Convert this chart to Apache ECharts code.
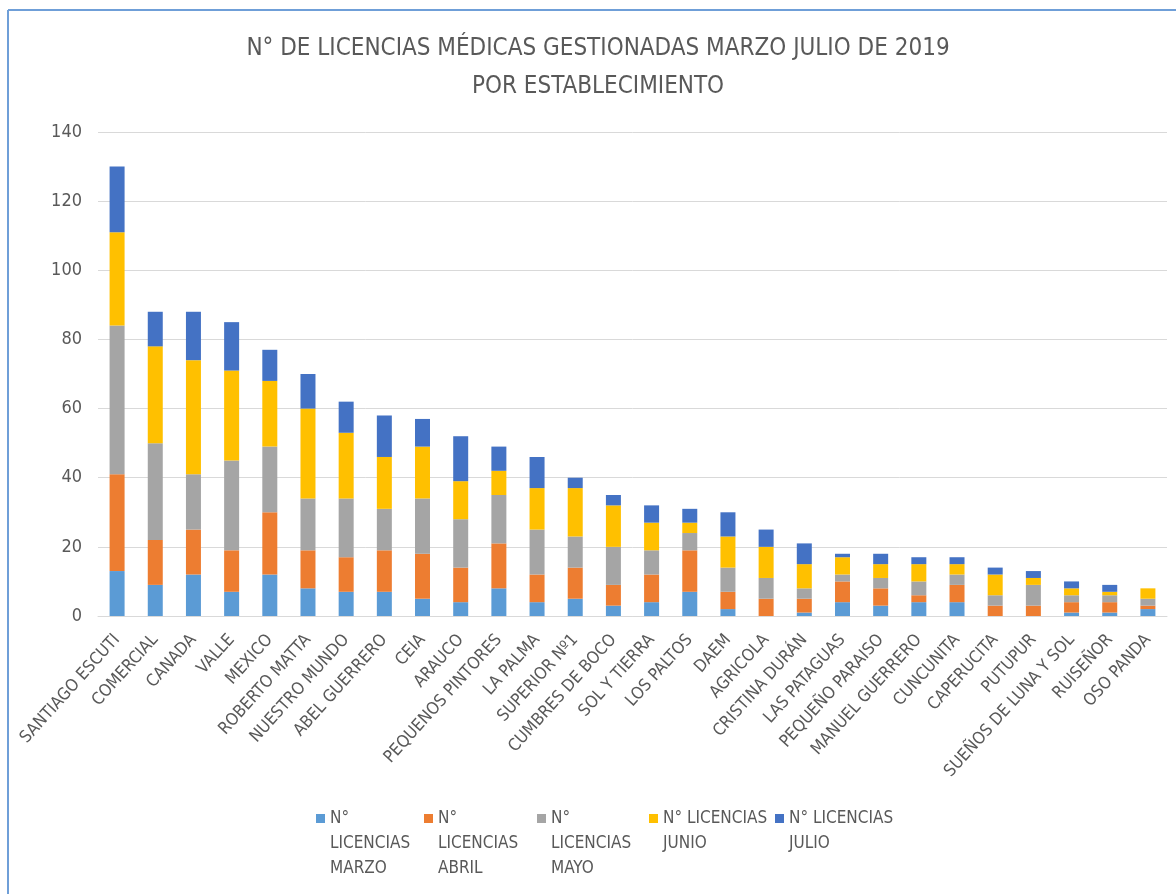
<!DOCTYPE html>
<html>
<head>
<meta charset="utf-8">
<script src="https://cdn.jsdelivr.net/npm/echarts@6/dist/echarts.min.js"></script>
<style>
  html, body { margin: 0; padding: 0; background: #ffffff; }
  #chart { width: 1176px; height: 894px; }
</style>
</head>
<body>
<div id="chart"></div>
<script>
// Establecimientos y licencias médicas por mes (marzo a julio 2019)
const establecimientos = [
  'SANTIAGO ESCUTI', 'COMERCIAL', 'CANADA', 'VALLE', 'MEXICO', 'ROBERTO MATTA',
  'NUESTRO MUNDO', 'ABEL GUERRERO', 'CEIA', 'ARAUCO', 'PEQUENOS PINTORES',
  'LA PALMA', 'SUPERIOR Nº1', 'CUMBRES DE BOCO', 'SOL Y TIERRA', 'LOS PALTOS',
  'DAEM', 'AGRICOLA', 'CRISTINA DURÁN', 'LAS PATAGUAS', 'PEQUEÑO PARAISO',
  'MANUEL GUERRERO', 'CUNCUNITA', 'CAPERUCITA', 'PUTUPUR',
  'SUEÑOS DE LUNA Y SOL', 'RUISEÑOR', 'OSO PANDA'
];
const marzo = [13, 9, 12, 7, 12, 8, 7, 7, 5, 4, 8, 4, 5, 3, 4, 7, 2, 0, 1, 4, 3, 4, 4, 0, 0, 1, 1, 2];
const abril = [28, 13, 13, 12, 18, 11, 10, 12, 13, 10, 13, 8, 9, 6, 8, 12, 5, 5, 4, 6, 5, 2, 5, 3, 3, 3, 3, 1];
const mayo  = [43, 28, 16, 26, 19, 15, 17, 12, 16, 14, 14, 13, 9, 11, 7, 5, 7, 6, 3, 2, 3, 4, 3, 3, 6, 2, 2, 2];
const junio = [27, 28, 33, 26, 19, 26, 19, 15, 15, 11, 7, 12, 14, 12, 8, 3, 9, 9, 7, 5, 4, 5, 3, 6, 2, 2, 1, 3];
const julio = [19, 10, 14, 14, 9, 10, 9, 12, 8, 13, 7, 9, 3, 3, 5, 4, 7, 5, 6, 1, 3, 2, 2, 2, 2, 2, 2, 0];
const yTicks = { min: 0, max: 140, interval: 20 };

const seriesDefs = [
  { name: 'N° LICENCIAS MARZO', label: 'N°\nLICENCIAS\nMARZO', data: marzo, color: '#5b9bd5', w: 94 },
  { name: 'N° LICENCIAS ABRIL', label: 'N°\nLICENCIAS\nABRIL', data: abril, color: '#ed7d31', w: 99 },
  { name: 'N° LICENCIAS MAYO', label: 'N°\nLICENCIAS\nMAYO', data: mayo, color: '#a5a5a5', w: 98 },
  { name: 'N° LICENCIAS JUNIO', label: 'N° LICENCIAS\nJUNIO', data: junio, color: '#ffc000', w: 112 },
  { name: 'N° LICENCIAS JULIO', label: 'N° LICENCIAS\nJULIO', data: julio, color: '#4472c4', w: 110 }
];

const FONT = "'Liberation Sans Narrow', 'DejaVu Sans Condensed', sans-serif";
const TXT = '#595959';
const LINE_H = 25;

const chart = echarts.init(document.getElementById('chart'), null, { renderer: 'canvas' });

// Legend text is centred on its swatch; blank lines above keep the first
// line level with the swatch while the rest hangs below it.
const labelMap = {};
seriesDefs.forEach(s => {
  const n = s.label.split('\n').length;
  labelMap[s.name] = '\n'.repeat(n - 1) + s.label;
});

chart.setOption({
  backgroundColor: '#ffffff',
  animation: false,
  textStyle: { fontFamily: FONT },
  title: {
    text: 'N° DE LICENCIAS MÉDICAS GESTIONADAS MARZO JULIO DE 2019\nPOR ESTABLECIMIENTO',
    left: 593,
    top: 25,
    textAlign: 'center',
    textStyle: { fontFamily: FONT, fontSize: 24, fontWeight: 'normal', color: TXT, lineHeight: 38 }
  },
  graphic: [
    { type: 'line', shape: { x1: 8, y1: 10, x2: 8, y2: 894 }, style: { stroke: '#6f9fd8', lineWidth: 2 } },
    { type: 'line', shape: { x1: 8, y1: 10, x2: 1176, y2: 10 }, style: { stroke: '#6f9fd8', lineWidth: 2 } }
  ],
  legend: {
    orient: 'horizontal',
    left: 316,
    top: 756,
    padding: 0,
    itemGap: 0,
    itemWidth: 9,
    itemHeight: 9,
    icon: 'rect',
    data: seriesDefs.map(s => ({
      name: s.name,
      textStyle: { width: s.w, lineHeight: LINE_H }
    })),
    formatter: name => labelMap[name],
    textStyle: { fontFamily: FONT, fontSize: 17, color: TXT, lineHeight: LINE_H }
  },
  grid: { left: 98, right: 9, top: 132, bottom: 278, containLabel: false },
  xAxis: {
    type: 'category',
    data: establecimientos,
    axisLine: { lineStyle: { color: '#d9d9d9', width: 1 } },
    axisTick: { show: false },
    axisLabel: {
      interval: 0,
      rotate: 48,
      margin: 21,
      fontFamily: FONT,
      fontSize: 17,
      color: TXT
    }
  },
  yAxis: {
    type: 'value',
    min: yTicks.min,
    max: yTicks.max,
    interval: yTicks.interval,
    axisLine: { show: false },
    axisTick: { show: false },
    axisLabel: { margin: 16, fontFamily: FONT, fontSize: 18, color: TXT },
    splitLine: { lineStyle: { color: '#d9d9d9', width: 1 } }
  },
  series: seriesDefs.map(s => ({
    name: s.name,
    type: 'bar',
    stack: 'total',
    data: s.data,
    barWidth: 15,
    itemStyle: { color: s.color },
    emphasis: { disabled: true }
  }))
});
</script>
</body>
</html>
